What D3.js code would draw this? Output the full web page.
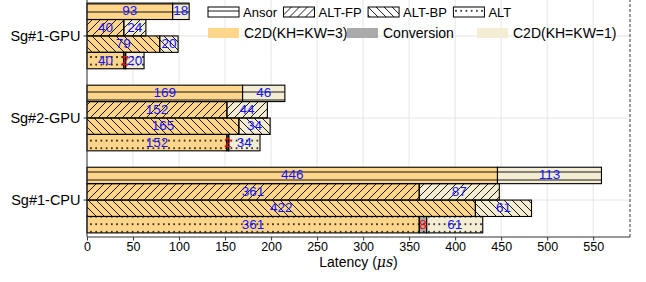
<!DOCTYPE html>
<html>
<head>
<meta charset="utf-8">
<script src="https://cdn.jsdelivr.net/npm/d3@7"></script>
<style>
  body { margin: 0; background: #fff; }
  svg { display: block; font-family: "Liberation Sans", Arial, sans-serif; }
</style>
</head>
<body>
<svg id="chart" width="646" height="282"></svg>
<script>
// subgraphs (y categories) and the four methods drawn inside each group
const subgraphs = ["Sg#1-GPU", "Sg#2-GPU", "Sg#1-CPU"];
const methods = ["Ansor", "ALT-FP", "ALT-BP", "ALT"];
const components = ["C2D(KH=KW=3)", "Conversion", "C2D(KH=KW=1)"];

// latency (us), one row per subgraph, one value per method
const c2d3 = [[93, 40, 79, 40], [169, 152, 165, 152], [446, 361, 422, 361]];
const conversion = [[0, 0, 0, 2], [0, 0, 0, 2], [0, 0, 0, 8]];
const c2d1 = [[18, 24, 20, 20], [46, 44, 34, 34], [113, 87, 61, 61]];

const xTicks = [0, 50, 100, 150, 200, 250, 300, 350, 400, 450, 500, 550];

const colors = { "C2D(KH=KW=3)": "#fdd58b", "Conversion": "#aaaaaa", "C2D(KH=KW=1)": "#f3edd3" };
const labelColors = { "C2D(KH=KW=3)": "#1414ff", "Conversion": "#ff0000", "C2D(KH=KW=1)": "#1414ff" };

const svg = d3.select("#chart");
const pLeft = 87, pRight = 630, pTop = -1, pBottom = 237;

const x = d3.scaleLinear().domain([0, 590]).range([pLeft, pRight]);
const y = d3.scaleBand().domain(subgraphs).range([pTop, pBottom]).paddingInner(0.2).paddingOuter(0.05);
const yIn = d3.scaleBand().domain(methods).range([0, y.bandwidth()]);

// hatch patterns, one per method
const defs = svg.append("defs");
const hatch = {
  "Ansor": p => p.attr("width", 8).attr("height", 8)
    .append("line").attr("x1", 0).attr("x2", 8).attr("y1", 4).attr("y2", 4),
  "ALT-FP": p => p.attr("width", 8).attr("height", 8)
    .append("path").attr("d", "M-2,2L2,-2M0,8L8,0M6,10L10,6"),
  "ALT-BP": p => p.attr("width", 8).attr("height", 8)
    .append("path").attr("d", "M-2,6L2,10M0,0L8,8M6,-2L10,2"),
  "ALT": p => p.attr("width", 5.2).attr("height", 7.6)
    .append("circle").attr("cx", 2.6).attr("cy", 3.8).attr("r", 0.9).attr("fill", "#000")
};
methods.forEach((m, i) => {
  const p = defs.append("pattern").attr("id", "hatch" + i).attr("patternUnits", "userSpaceOnUse");
  hatch[m](p).attr("stroke", "#000").attr("stroke-width", 0.9).attr("stroke-linecap", "square");
});
defs.select("#hatch3 circle").attr("stroke", "none");

// grid
svg.append("g").selectAll("line").data(xTicks).join("line")
  .attr("x1", d => x(d)).attr("x2", d => x(d))
  .attr("y1", pTop).attr("y2", pBottom)
  .attr("stroke", "#e0e0e0").attr("stroke-width", 0.8);
svg.append("g").selectAll("line").data(subgraphs).join("line")
  .attr("x1", pLeft).attr("x2", pRight)
  .attr("y1", d => y(d) + y.bandwidth() / 2).attr("y2", d => y(d) + y.bandwidth() / 2)
  .attr("stroke", "#e0e0e0").attr("stroke-width", 0.8);

// stacked rows
const rows = [];
subgraphs.forEach((g, gi) => methods.forEach((m, mi) => {
  rows.push({ g, m, mi,
    "C2D(KH=KW=3)": c2d3[gi][mi], "Conversion": conversion[gi][mi], "C2D(KH=KW=1)": c2d1[gi][mi] });
}));
const series = d3.stack().keys(components)(rows);
const segs = [];
series.forEach(s => s.forEach(d => {
  if (d[1] - d[0] > 0) segs.push({ key: s.key, x0: d[0], x1: d[1], v: d[1] - d[0], row: d.data });
}));

const bars = svg.append("g");
bars.selectAll("rect.fill").data(segs).join("rect").attr("class", "fill")
  .attr("x", d => x(d.x0)).attr("width", d => x(d.x1) - x(d.x0))
  .attr("y", d => y(d.row.g) + yIn(d.row.m)).attr("height", yIn.bandwidth())
  .attr("fill", d => colors[d.key]);
bars.selectAll("rect.hatch").data(segs).join("rect").attr("class", "hatch")
  .attr("x", d => x(d.x0)).attr("width", d => x(d.x1) - x(d.x0))
  .attr("y", d => y(d.row.g) + yIn(d.row.m)).attr("height", yIn.bandwidth())
  .attr("fill", d => "url(#hatch" + d.row.mi + ")")
  .attr("stroke", "#000").attr("stroke-width", 1.1);

bars.selectAll("text").data(segs).join("text")
  .attr("x", d => x((d.x0 + d.x1) / 2))
  .attr("y", d => y(d.row.g) + yIn(d.row.m) + yIn.bandwidth() / 2)
  .attr("dy", "0.3em")
  .attr("text-anchor", "middle")
  .attr("font-size", 13.5)
  .attr("fill", d => labelColors[d.key])
  .text(d => d.v);

// axes
const xAxis = svg.append("g").attr("transform", `translate(0,${pBottom})`)
  .call(d3.axisBottom(x).tickValues(xTicks).tickSize(3.5).tickPadding(2));
xAxis.select(".domain").remove();
xAxis.selectAll("text").attr("font-size", 12.5).attr("font-family", null).attr("fill", "#000");
xAxis.selectAll("line").attr("stroke", "#000").attr("stroke-width", 0.8);

const yAxis = svg.append("g").attr("transform", `translate(${pLeft},0)`)
  .call(d3.axisLeft(y).tickSize(3.5).tickPadding(3));
yAxis.select(".domain").remove();
yAxis.selectAll("text").attr("font-size", 14.5).attr("font-family", null).attr("fill", "#000");
yAxis.selectAll("line").attr("stroke", "#000").attr("stroke-width", 0.8);

// frame: solid left/bottom, dashed right
svg.append("line").attr("x1", pLeft).attr("x2", pLeft).attr("y1", pTop).attr("y2", pBottom)
  .attr("stroke", "#333").attr("stroke-width", 1);
svg.append("line").attr("x1", pLeft).attr("x2", pRight).attr("y1", pBottom).attr("y2", pBottom)
  .attr("stroke", "#333").attr("stroke-width", 1);
svg.append("line").attr("x1", pRight).attr("x2", pRight).attr("y1", pTop).attr("y2", pBottom)
  .attr("stroke", "#333").attr("stroke-width", 1).attr("stroke-dasharray", "3,2");

svg.append("text").attr("x", (pLeft + pRight) / 2).attr("y", 267)
  .attr("text-anchor", "middle").attr("font-size", 14)
  .call(t => {
    t.append("tspan").text("Latency (");
    t.append("tspan").attr("font-family", "'DejaVu Serif', serif").attr("font-style", "italic").text("μs");
    t.append("tspan").text(")");
  });

// legend: row 1 hatches (flowed), row 2 colours
const lg = svg.append("g");
let lx = 208;
methods.forEach((m, i) => {
  const it = lg.append("g").attr("transform", `translate(${lx},7)`);
  it.append("rect").attr("width", 31).attr("height", 10).attr("fill", "#fff");
  it.append("rect").attr("width", 31).attr("height", 10)
    .attr("fill", "url(#hatch" + i + ")").attr("stroke", "#000").attr("stroke-width", 1);
  const t = it.append("text").attr("x", 35).attr("y", 5).attr("dy", "0.35em").attr("font-size", 13).text(m);
  lx += 35 + t.node().getComputedTextLength() + 6.5;
});

const legendRow2X = [208, 347, 477];
const l2 = lg.selectAll("g.c").data(components).join("g").attr("class", "c")
  .attr("transform", (d, i) => `translate(${legendRow2X[i]},28)`);
l2.append("rect").attr("width", 31).attr("height", 10).attr("fill", d => colors[d]);
l2.append("text").attr("x", 36).attr("y", 5).attr("dy", "0.35em").attr("font-size", 14).text(d => d);
</script>
</body>
</html>
